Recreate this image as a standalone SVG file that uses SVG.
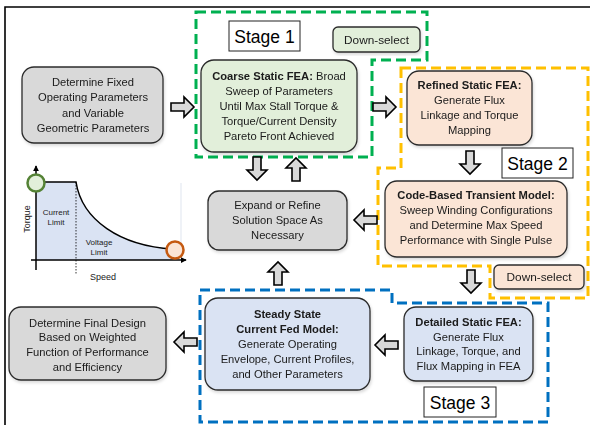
<svg xmlns="http://www.w3.org/2000/svg" width="590" height="425" viewBox="0 0 590 425">
<style>
.box{stroke:#2b2b2b;stroke-width:1.3}
.gray{fill:#d9d9d9}
.green{fill:#e2efda}
.peach{fill:#fbe5d6}
.blue{fill:#dae3f3}
.t{font-family:"Liberation Sans",Arial,sans-serif;font-size:11.2px;fill:#1a1a1a;text-anchor:middle}
.b{font-weight:bold}
.stage{font-family:"Liberation Sans",Arial,sans-serif;font-size:17.5px;fill:#000;text-anchor:middle}
.ds{font-family:"Liberation Sans",Arial,sans-serif;font-size:11.8px;fill:#1a1a1a;text-anchor:middle}
.lbl{fill:#fff;stroke:#222;stroke-width:1}
.region{fill:none;stroke-width:3;stroke-dasharray:10 5}
.small{font-family:"Liberation Sans",Arial,sans-serif;font-size:8px;fill:#222;text-anchor:middle}
.axis{font-family:"Liberation Sans",Arial,sans-serif;font-size:9px;fill:#222;text-anchor:middle}
</style>
<defs>
<path id="barrow" d="M0,-4 H13 V-10 L23,0 L13,10 V4 H0 Z" fill="#d9d9d9" stroke="#000" stroke-width="1.6" stroke-linejoin="miter"/>
<marker id="ah" viewBox="0 0 8 8" refX="7" refY="4" markerWidth="6" markerHeight="6" orient="auto" markerUnits="userSpaceOnUse">
<path d="M0,0 L8,4 L0,8 Z" fill="#000"/>
</marker>
<filter id="sh" x="-10%" y="-10%" width="120%" height="125%">
<feDropShadow dx="1" dy="2" stdDeviation="1.5" flood-color="#000" flood-opacity="0.15"/>
</filter>
</defs>
<rect width="590" height="425" fill="#fff"/>
<!-- outer frame -->
<path d="M5,425 V7 H590" fill="none" stroke="#000" stroke-width="1.6"/>

<!-- regions -->
<g id="stage-regions">
<path class="region" stroke="#00b050" d="M196,12 H427 V60 H372 V157 H196 Z"/>
<path class="region" stroke="#ffc000" d="M401,68 H588 V298 H490 V266 H378 V168 H401 Z"/>
<path class="region" stroke="#0070c0" d="M200,290 H392 V303 H548 V422 H200 Z"/>
</g>

<!-- chart -->
<g id="torque-speed-chart">
<path d="M36,182 H76 C82,220 120,246 173,249 V260 H36 Z" fill="#dae3f3"/>
<line x1="181" y1="183" x2="181" y2="250" stroke="#dfe5ef" stroke-width="1"/>
<line x1="76" y1="182" x2="76" y2="275" stroke="#000" stroke-width="0.8" stroke-dasharray="1.5 1.5"/>
<path d="M36,182 H76 C82,220 120,246 173,249" fill="none" stroke="#000" stroke-width="1.5"/>
<line x1="36" y1="270" x2="36" y2="166" stroke="#000" stroke-width="1.5" marker-end="url(#ah)"/>
<line x1="31" y1="260" x2="186" y2="260" stroke="#000" stroke-width="1.5" marker-end="url(#ah)"/>
<circle cx="36" cy="183" r="8.5" fill="#e2efda" stroke="#548235" stroke-width="2.5"/>
<circle cx="175" cy="250" r="8.5" fill="#fbe5d6" stroke="#c55a11" stroke-width="2.5"/>
<text class="small" x="56" y="215">Current</text>
<text class="small" x="56" y="225">Limit</text>
<text class="small" x="99" y="245">Voltage</text>
<text class="small" x="99" y="255">Limit</text>
<text class="axis" transform="translate(30,219) rotate(-90)">Torque</text>
<text class="axis" x="103" y="280">Speed</text>
</g>

<!-- nodes -->
<g id="determine-fixed" filter="url(#sh)">
<rect class="box gray" x="22" y="67" width="141" height="76" rx="12"/>
<text class="t" x="93" y="86">Determine Fixed</text>
<text class="t" x="93" y="101">Operating Parameters</text>
<text class="t" x="93" y="117">and Variable</text>
<text class="t" x="93" y="132">Geometric Parameters</text>
</g>

<g id="stage1-label">
<rect class="lbl" x="229" y="21" width="71" height="30"/>
<text class="stage" x="264.5" y="42.5">Stage 1</text>
</g>

<g id="downselect-1" filter="url(#sh)">
<rect class="box green" x="333" y="27" width="87" height="25" rx="5"/>
<text class="ds" x="376.5" y="44">Down-select</text>
</g>

<g id="coarse-static-fea" filter="url(#sh)">
<rect class="box green" x="201" y="60" width="156" height="92" rx="13"/>
<text class="t" x="279" y="80"><tspan class="b">Coarse Static FEA:</tspan> Broad</text>
<text class="t" x="279" y="95">Sweep of Parameters</text>
<text class="t" x="279" y="110">Until Max Stall Torque &amp;</text>
<text class="t" x="279" y="125">Torque/Current Density</text>
<text class="t" x="279" y="140">Pareto Front Achieved</text>
</g>

<g id="refined-static-fea" filter="url(#sh)">
<rect class="box peach" x="407" y="71" width="125" height="74" rx="12"/>
<text class="t b" x="469.5" y="89">Refined Static FEA:</text>
<text class="t" x="469.5" y="104">Generate Flux</text>
<text class="t" x="469.5" y="119">Linkage and Torque</text>
<text class="t" x="469.5" y="134">Mapping</text>
</g>

<g id="stage2-label">
<rect class="lbl" x="502" y="148" width="71" height="30"/>
<text class="stage" x="537.5" y="169.5">Stage 2</text>
</g>

<g id="code-based-transient" filter="url(#sh)">
<rect class="box peach" x="385" y="181" width="182" height="76" rx="12"/>
<text class="t b" x="476" y="199">Code-Based Transient Model:</text>
<text class="t" x="476" y="214">Sweep Winding Configurations</text>
<text class="t" x="476" y="229">and Determine Max Speed</text>
<text class="t" x="476" y="244">Performance with Single Pulse</text>
</g>

<g id="downselect-2" filter="url(#sh)">
<rect class="box peach" x="494" y="265" width="90" height="24" rx="5"/>
<text class="ds" x="539" y="281">Down-select</text>
</g>

<g id="expand-refine" filter="url(#sh)">
<rect class="box gray" x="208" y="191" width="139" height="59" rx="11"/>
<text class="t" x="277.5" y="209">Expand or Refine</text>
<text class="t" x="277.5" y="224">Solution Space As</text>
<text class="t" x="277.5" y="239">Necessary</text>
</g>

<g id="detailed-static-fea" filter="url(#sh)">
<rect class="box blue" x="404" y="307" width="129" height="74" rx="12"/>
<text class="t b" x="468.5" y="326">Detailed Static FEA:</text>
<text class="t" x="468.5" y="341">Generate Flux</text>
<text class="t" x="468.5" y="355">Linkage, Torque, and</text>
<text class="t" x="468.5" y="370">Flux Mapping in FEA</text>
</g>

<g id="stage3-label">
<rect class="lbl" x="424" y="387" width="72" height="30"/>
<text class="stage" x="460" y="408.5">Stage 3</text>
</g>

<g id="steady-state-model" filter="url(#sh)">
<rect class="box blue" x="205" y="298" width="165" height="92" rx="13"/>
<text class="t b" x="287.5" y="318">Steady State</text>
<text class="t b" x="287.5" y="333">Current Fed Model:</text>
<text class="t" x="287.5" y="348">Generate Operating</text>
<text class="t" x="287.5" y="363">Envelope, Current Profiles,</text>
<text class="t" x="287.5" y="378">and Other Parameters</text>
</g>

<g id="final-design" filter="url(#sh)">
<rect class="box gray" x="9" y="307" width="157" height="73" rx="12"/>
<text class="t" x="87.5" y="327">Determine Final Design</text>
<text class="t" x="87.5" y="341">Based on Weighted</text>
<text class="t" x="87.5" y="356">Function of Performance</text>
<text class="t" x="87.5" y="371">and Efficiency</text>
</g>

<!-- connectors -->
<g id="connectors">
<use href="#barrow" transform="translate(171,107)"/>
<use href="#barrow" transform="translate(373,107)"/>
<use href="#barrow" transform="translate(470,151) rotate(90)"/>
<use href="#barrow" transform="translate(471,270) rotate(90)"/>
<use href="#barrow" transform="translate(257,157) rotate(90)"/>
<use href="#barrow" transform="translate(296,181) rotate(-90)"/>
<use href="#barrow" transform="translate(278,285) rotate(-90)"/>
<use href="#barrow" transform="translate(377,220) rotate(180)"/>
<use href="#barrow" transform="translate(398,345) rotate(180)"/>
<use href="#barrow" transform="translate(197,342) rotate(180)"/>
</g>
</svg>
